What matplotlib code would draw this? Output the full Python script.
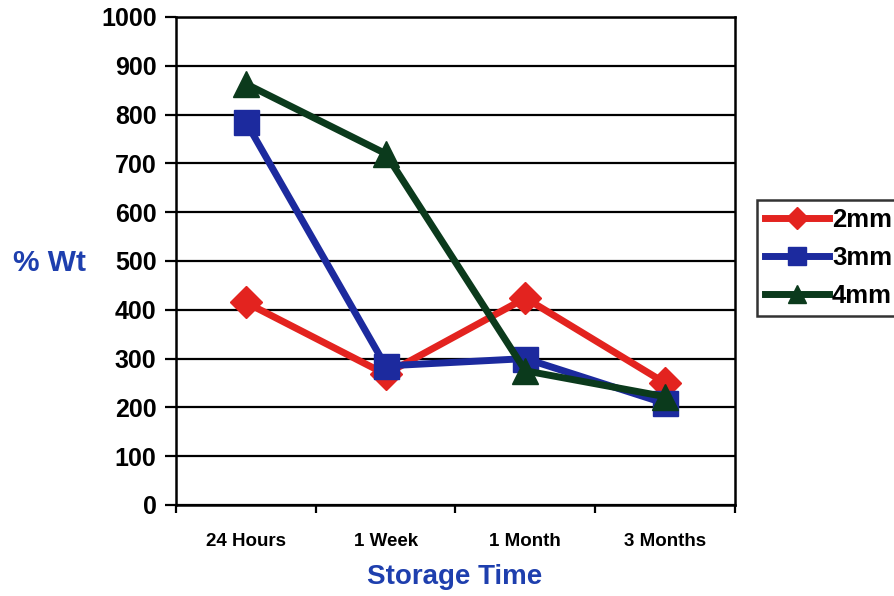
import matplotlib
matplotlib.use("Agg")
import matplotlib.pyplot as plt
import numpy as np
from matplotlib.ticker import FixedLocator

categories = ["24 Hours", "1 Week", "1 Month", "3 Months"]
series_names = ["2mm", "3mm", "4mm"]
vals_2mm = [415, 268, 424, 250]
vals_3mm = [785, 285, 300, 208]
vals_4mm = [863, 720, 275, 222]
y_ticks = [0, 100, 200, 300, 400, 500, 600, 700, 800, 900, 1000]

plt.rcParams['font.family'] = ['Liberation Sans', 'DejaVu Sans']
plt.rcParams['font.weight'] = 'bold'

fig = plt.figure(figsize=(8.95, 5.96), dpi=100)
ax = fig.add_axes([176/895, 1-505/596, (735-176)/895, (505-17)/596])

x = np.arange(len(categories))
styles = [
    (vals_2mm, '#e3231f', 'D', 16.5),
    (vals_3mm, '#1c2a9e', 's', 18),
    (vals_4mm, '#0b3a1c', '^', 19),
]
for (vals, col, mk, ms), name in zip(styles, series_names):
    ax.plot(x, vals, color=col, lw=5, marker=mk, ms=ms, mec=col, mfc=col,
            label=name, zorder=3, solid_joinstyle='miter')

ax.set_xlim(-0.5, len(categories) - 0.5)
ax.set_ylim(0, 1000)
ax.set_yticks(y_ticks)
ax.yaxis.grid(True, color='black', lw=1.6)
ax.set_axisbelow(True)

ax.set_xticks(x)
ax.set_xticklabels(categories, fontsize=13.5, fontweight='bold')
ax.xaxis.set_minor_locator(FixedLocator(np.arange(-0.5, len(categories), 1.0)))
ax.tick_params(axis='x', which='major', length=0, pad=20)
ax.tick_params(axis='x', which='minor', length=6, width=1.6, direction='out')
ax.tick_params(axis='y', which='major', length=8, width=1.6, direction='out',
               labelsize=18, pad=6)
for t in ax.get_yticklabels():
    t.set_fontweight('bold')

for s in ax.spines.values():
    s.set_linewidth(1.8)
    s.set_color('black')

blue = '#1e3fae'
fig.text(455/895, 1-577/596, "Storage Time", color=blue, fontsize=20,
         fontweight='bold', ha='center', va='center')
fig.text(50/895, 1-263/596, "% Wt", color=blue, fontsize=21.5,
         fontweight='bold', ha='center', va='center')

leg = fig.legend(loc='upper left', bbox_to_anchor=(757/895, 1-200/596),
                 borderaxespad=0, frameon=True, fancybox=False,
                 edgecolor='black', fontsize=18.5, handlelength=2.5,
                 handletextpad=0.12, labelspacing=0.55, borderpad=0.3,
                 markerscale=0.7)
leg.get_frame().set_linewidth(1.8)
for t in leg.get_texts():
    t.set_fontweight('bold')

fig.savefig("out.png", dpi=100, facecolor='white')
